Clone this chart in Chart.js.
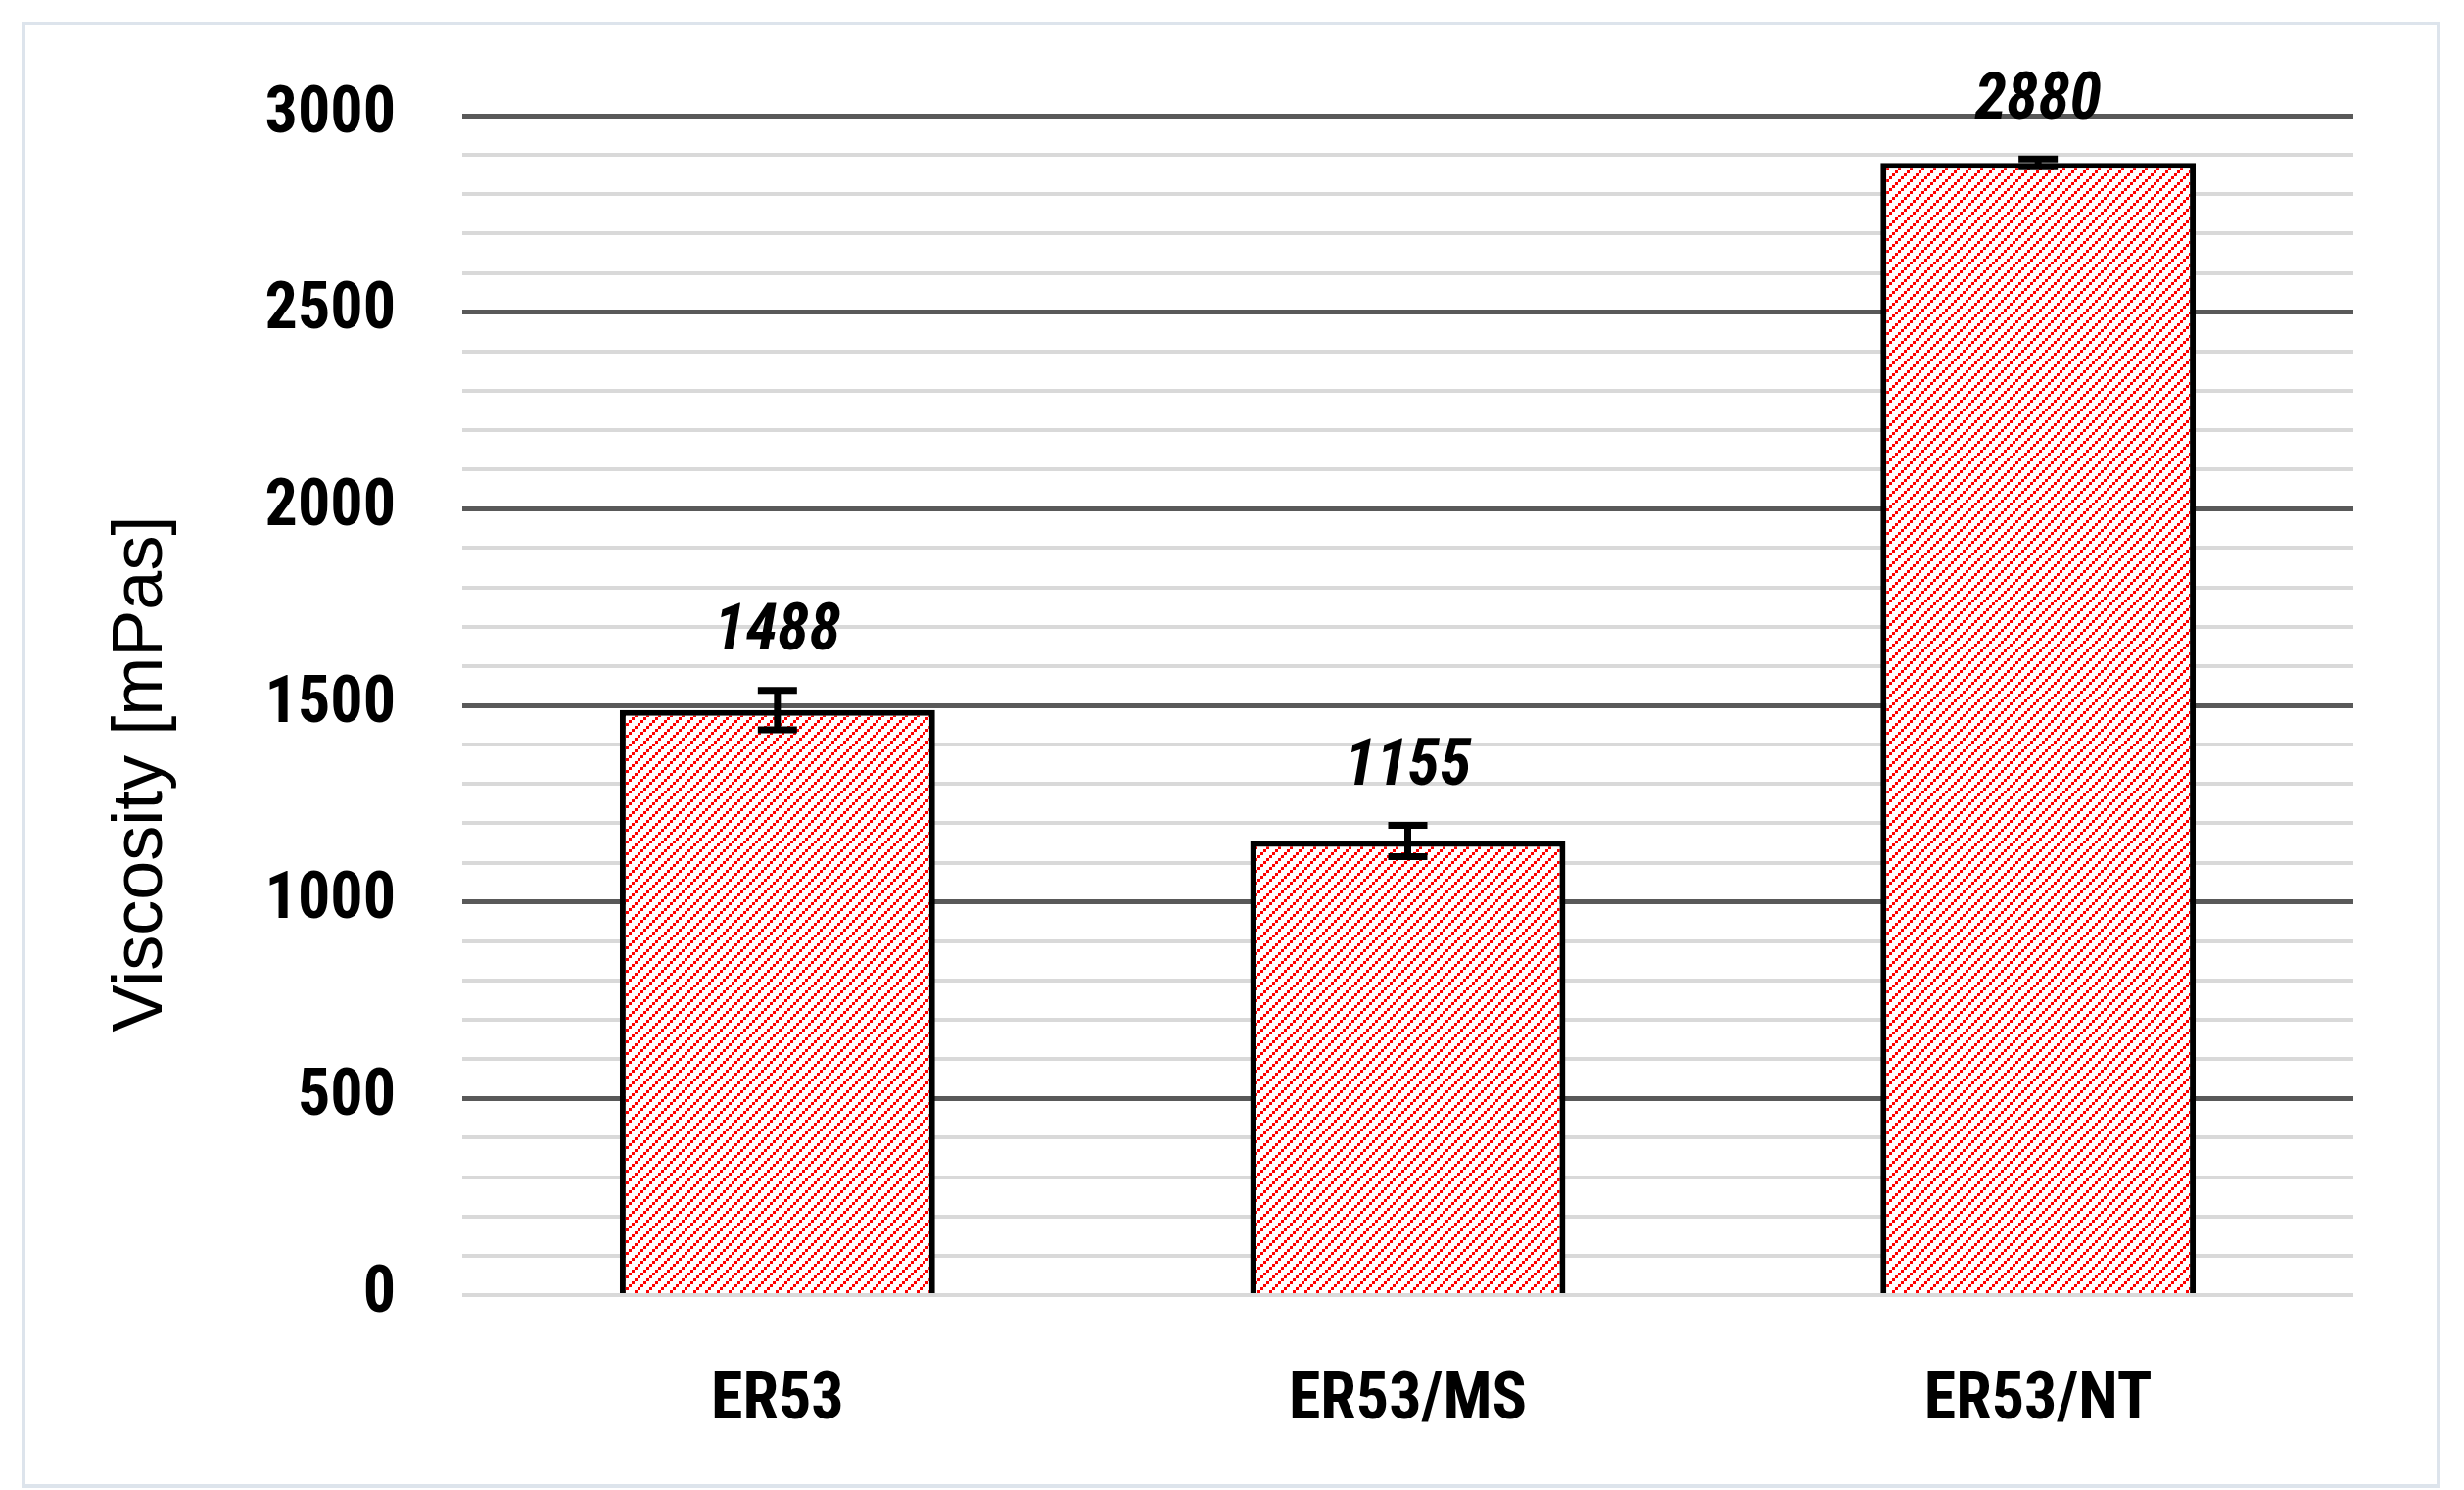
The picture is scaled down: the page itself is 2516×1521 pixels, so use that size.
<!DOCTYPE html>
<html>
<head>
<meta charset="utf-8">
<style>
  html, body { margin: 0; padding: 0; background: #fff; }
  #wrap { width: 2516px; height: 1521px; }
</style>
<script src="https://cdn.jsdelivr.net/npm/chart.js@4/dist/chart.umd.min.js"></script>
</head>
<body>
<div id="wrap"><canvas id="c"></canvas></div>
<script>
const categories = ['ER53', 'ER53/MS', 'ER53/NT'];
const viscosity = [1488, 1155, 2880];
const errors = [50, 40, 10];
const yTicks = [0, 500, 1000, 1500, 2000, 2500, 3000];

const FONT = '"Liberation Sans Narrow", "Roboto Condensed", "Liberation Sans", Arial, sans-serif';

// red dotted diagonal hatch, like the Office pattern fill
function hatch() {
    const t = document.createElement('canvas');
    t.width = 12; t.height = 12;
    const g = t.getContext('2d');
    g.fillStyle = '#fff';
    g.fillRect(0, 0, 12, 12);
    g.fillStyle = '#ff0000';
    for (let i = 0; i < 4; i++) g.fillRect(i * 3, 9 - i * 3, 3, 3);
    return g.createPattern(t, 'repeat');
}

const extras = {
    id: 'extras',
    beforeDraw(chart) {
        const { ctx } = chart;
        ctx.save();
        ctx.strokeStyle = '#dde4ec';
        ctx.lineWidth = 4;
        ctx.strokeRect(24, 24, 2466, 1493);
        ctx.restore();
    },
    afterDatasetsDraw(chart) {
        const { ctx } = chart;
        const y = chart.scales.y;
        const meta = chart.getDatasetMeta(0);
        ctx.save();
        meta.data.forEach((bar, i) => {
            const top = y.getPixelForValue(viscosity[i] + errors[i]);
            const bot = y.getPixelForValue(viscosity[i] - errors[i]);
            ctx.strokeStyle = '#000';
            ctx.lineWidth = 7;
            ctx.beginPath();
            ctx.moveTo(bar.x, top); ctx.lineTo(bar.x, bot);
            ctx.moveTo(bar.x - 20, top); ctx.lineTo(bar.x + 20, top);
            ctx.moveTo(bar.x - 20, bot); ctx.lineTo(bar.x + 20, bot);
            ctx.stroke();
            ctx.fillStyle = '#000';
            ctx.font = 'italic bold 66px ' + FONT;
            ctx.textAlign = 'center';
            ctx.textBaseline = 'middle';
            ctx.fillText(String(viscosity[i]), bar.x, top - 58);
        });
        // y axis title
        ctx.translate(145, 790);
        ctx.rotate(-Math.PI / 2);
        ctx.font = '72px "Liberation Sans", Arial, sans-serif';
        ctx.textAlign = 'center';
        ctx.textBaseline = 'middle';
        ctx.fillText('Viscosity [mPas]', 0, 0);
        ctx.restore();
    }
};

new Chart(document.getElementById('c'), {
    type: 'bar',
    data: {
        labels: categories,
        datasets: [{
            data: viscosity,
            backgroundColor: hatch(),
            borderColor: '#000',
            borderWidth: 6,
            borderSkipped: 'bottom',
            barPercentage: 0.5,
            categoryPercentage: 1,
        }],
    },
    options: {
        responsive: true,
        maintainAspectRatio: false,
        animation: false,
        devicePixelRatio: 1,
        layout: { padding: { top: 118, right: 113, left: 0, bottom: 0 } },
        plugins: { legend: { display: false }, tooltip: { enabled: false } },
        scales: {
            x: {
                grid: { display: false },
                border: { display: false },
                ticks: { color: '#000', font: { family: FONT, size: 66, weight: 'bold' }, padding: 62 },
                afterFit: s => { s.height = 1521 - 1326 + 4; },
            },
            y: {
                min: 0,
                max: 3000,
                border: { display: false },
                afterBuildTicks: s => {
                    s.ticks = [];
                    for (let v = 0; v <= 3000; v += 100) s.ticks.push({ value: v });
                },
                grid: {
                    color: c => (c.tick.value % 500 === 0 && c.tick.value !== 0) ? '#595959' : '#d9d9d9',
                    lineWidth: c => (c.tick.value % 500 === 0 && c.tick.value !== 0) ? 5 : 4,
                    drawTicks: false,
                },
                ticks: {
                    color: '#000',
                    padding: 68,
                    autoSkip: false,
                    font: { family: FONT, size: 66, weight: 'bold' },
                    callback: v => yTicks.includes(v) ? String(v) : '',
                },
                afterFit: s => { s.width = 472; },
            },
        },
    },
    plugins: [extras],
});
</script>
</body>
</html>
